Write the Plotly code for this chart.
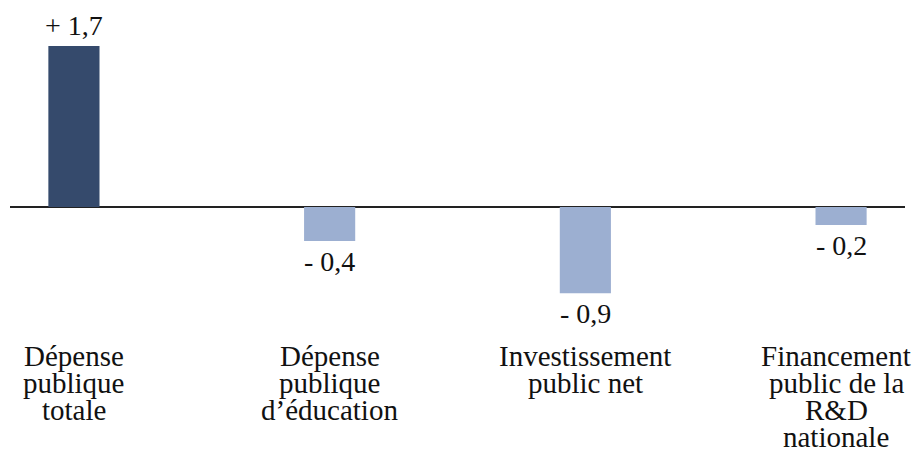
import plotly.graph_objects as go

categories = [
    ["Dépense", "publique", "totale"],
    ["Dépense", "publique", "d’éducation"],
    ["Investissement", "public net"],
    ["Financement", "public de la", "R&D", "nationale"],
]
values = [1.7, -0.36, -0.91, -0.19]
value_labels = ["+ 1,7", "- 0,4", "- 0,9", "- 0,2"]
bar_colors = ["#354A6C", "#9CAFD1", "#9CAFD1", "#9CAFD1"]

FONT = "Liberation Serif"
TXT = "#111111"

x = list(range(len(categories)))

fig = go.Figure()
fig.add_trace(go.Bar(
    x=x, y=values, width=0.2,
    marker=dict(color=bar_colors, line=dict(width=0)),
    hoverinfo="skip",
))

for xi, v, lab in zip(x, values, value_labels):
    fig.add_annotation(
        x=xi, y=v, text=lab, showarrow=False,
        yanchor="bottom" if v > 0 else "top",
        yshift=3 if v > 0 else -3,
        font=dict(family=FONT, size=28, color=TXT),
    )

# category labels, one annotation per line for the tight line spacing of the original
label_xshift = [0, 0, 0, -5]
for xi, lines, xs in zip(x, categories, label_xshift):
    for i, line in enumerate(lines):
        fig.add_annotation(
            x=xi, xref="x", y=0, yref="paper", text=line, showarrow=False,
            yanchor="top", yshift=-(3 + 27 * i), xshift=xs,
            font=dict(family=FONT, size=29, color=TXT),
        )

fig.update_layout(
    width=920, height=461,
    margin=dict(l=2, r=23, t=2, b=134),
    paper_bgcolor="white", plot_bgcolor="white",
    showlegend=False,
    font=dict(family=FONT, size=28, color=TXT),
    xaxis=dict(
        range=[-0.25, 3.25], showgrid=False, zeroline=False, showline=False,
        ticks="", showticklabels=False, fixedrange=True,
    ),
    yaxis=dict(
        range=[-1.352, 2.08], showgrid=False, showticklabels=False,
        zeroline=True, zerolinecolor="#222222", zerolinewidth=1.5,
        showline=False, ticks="", fixedrange=True,
    ),
)

fig.write_html("out.html")
